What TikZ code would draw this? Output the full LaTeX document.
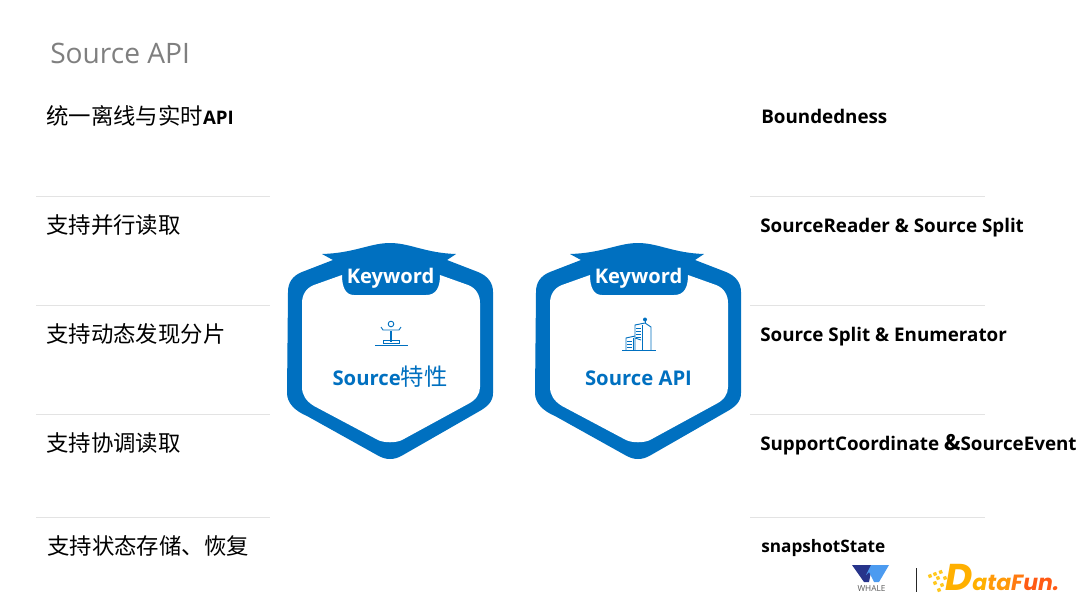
\documentclass[tikz,border=0pt]{standalone}
\usepackage{fontspec}
\setmainfont{Open Sans}
\newfontfamily\cjk{Noto Sans CJK SC}
\newfontfamily\logofont{Poppins}
\definecolor{kblue}{HTML}{0070C0}
\definecolor{sepgray}{HTML}{E3E3E3}
\definecolor{titlegray}{HTML}{7F7F7F}
\definecolor{dfa}{HTML}{FFC81E}
\definecolor{dfb}{HTML}{FFB000}
\definecolor{dfc}{HTML}{FF9A0A}
\definecolor{dfd}{HTML}{FF7A10}
\definecolor{dfe}{HTML}{FF5A14}
\definecolor{whaledark}{HTML}{27348B}
\definecolor{whalelight}{HTML}{4C9BF0}
\tikzset{
  leftlabel/.style={anchor=base west,inner sep=0pt,text=black,font=\fontsize{16.8}{20}\selectfont\cjk},
  rightlabel/.style={anchor=base west,inner sep=0pt,text=black,font=\fontsize{14.1}{18}\selectfont\bfseries},
  sepline/.style={draw=sepgray,line width=0.6pt},
  iconline/.style={draw=kblue,line width=0.7pt},
  caption/.style={anchor=base,inner sep=0pt,text=kblue,font=\fontsize{15.2}{19}\selectfont\bfseries},
  tabtext/.style={anchor=base,inner sep=0pt,text=white,font=\fontsize{15.1}{20}\selectfont\bfseries},
  badge/.pic={
    \fill[kblue] (0,243) .. controls (-20,243) and (-35,253) .. (-68,254) -- (-57,260) -- (-88,272)
      .. controls (-98,276) and (-102,283) .. (-102,292) -- (-103,393)
      .. controls (-103,403) and (-95,411) .. (-83,416) -- (-13,455)
      .. controls (-8,458) and (-4,459) .. (0,459) .. controls (4,459) and (8,458) .. (13,455)
      -- (88,412) .. controls (97,407) and (103,402) .. (103,393) -- (103,292)
      .. controls (103,283) and (98,276) .. (88,272) -- (57,260) -- (66,254)
      .. controls (35,253) and (20,243) .. (0,243) -- cycle;
    \fill[white] (-48,275) -- (-76,285) .. controls (-84,288) and (-88,295) .. (-88,303)
      -- (-88,387) .. controls (-88,395) and (-84,401) .. (-76,406) -- (-12,440)
      .. controls (-6,443) and (6,443) .. (12,440) -- (78,404)
      .. controls (86,400) and (90,394) .. (90,387) -- (90,303)
      .. controls (90,295) and (86,288) .. (78,285) -- (50,275)
      .. controls (50,288) and (46,295) .. (36,295) -- (-36,295)
      .. controls (-44,295) and (-48,288) .. (-48,275) -- cycle;
  }
}
\begin{document}
\begin{tikzpicture}[x=0.75pt,y=-0.75pt]
\useasboundingbox (0,0) rectangle (1080,608);
\fill[white] (0,0) rectangle (1080,608);

\node[anchor=base west,inner sep=0pt,text=titlegray,font=\fontsize{21.1}{25}\selectfont] (title) at (50,63) {Source API};

% left column
\node[leftlabel] (l1) at (46,124) {统一离线与实时{\rmfamily\bfseries\fontsize{14}{18}\selectfont API}};
\node[leftlabel] (l2) at (46,233) {支持并行读取};
\node[leftlabel] (l3) at (46,342) {支持动态发现分片};
\node[leftlabel] (l4) at (46,451) {支持协调读取};
\node[leftlabel] (l5) at (47,554) {支持状态存储、恢复};
\foreach \yy in {196,305,414,517}{
  \draw[sepline] (36,\yy) -- (270,\yy);
  \draw[sepline] (750,\yy) -- (985,\yy);
}

% right column
\node[rightlabel] (r1) at (761,123) {Boundedness};
\node[rightlabel] (r2) at (760,232) {SourceReader \& Source Split};
\node[rightlabel] (r3) at (760,341) {Source Split \& Enumerator};
\node[rightlabel] (r4) at (760,450) {SupportCoordinate {\cjk\fontsize{16}{18}\selectfont\&}SourceEvent};
\node[rightlabel,font=\fontsize{12.9}{16}\selectfont\bfseries] (r5) at (761,552) {snapshotState};

% badges
\pic at (390,0) {badge};
\pic at (638,0) {badge};
\node[tabtext] (k1) at (390.5,283) {Keyword};
\node[tabtext] (k2) at (638.5,283) {Keyword};
\node[caption] (c1) at (390,385) {Source{\cjk\mdseries\fontsize{17.5}{20}\selectfont 特性}};
\node[caption] (c2) at (638.5,385) {Source API};

% icon 1
\draw[iconline] (391,324) circle (2.8);
\draw[iconline] (381,327) -- (383,330) -- (399,330) -- (401,327);
\draw[iconline,line width=1.2pt] (391,331) -- (391,342);
\draw[iconline] (383,343) -- (383,340) -- (399,340) -- (399,343) -- cycle;
\draw[iconline] (375,345.5) -- (408,345.5);

% icon 2
\draw[iconline] (622,350) -- (656,350);
\draw[iconline] (626,350) -- (626,338) -- (635,336);
\draw[iconline] (635,350) -- (635,325) -- (645,323) -- (651,327) -- (651,350);
\draw[iconline] (642,350) -- (642,325);
\draw[iconline] (635,338) -- (641,340);
\draw[iconline] (633,338) -- (633,350);
\foreach \yy in {341,344,347}{\draw[iconline,line width=0.6pt] (627,\yy) -- (632,\yy);}
\foreach \yy in {328,331,334,337}{\draw[iconline,line width=0.6pt] (636,\yy) -- (641,\yy);}
\fill[kblue] (645,319.5) circle (2);
\draw[iconline,line width=0.6pt] (645,320) -- (645,323);

% WHALE logo
\fill[whaledark] (852,565) -- (871,565) -- (871,572) -- (869,582) -- (864,582) -- cycle;
\fill[whalelight] (889,565) -- (871,565) -- (866,575) -- (869,572) -- (874,582) -- (879,582) -- cycle;
\node[inner sep=0pt,text=black!65,font=\fontsize{6.2}{7}\selectfont] (whale) at (871.5,589) {WHALE};
\draw[black!85,line width=1.1pt] (916.5,568) -- (916.5,592);

% DataFun logo
\foreach \xx/\yy in {940.7/572,935/574,930/576,938/578,945/578,935/583,942/585,939/590}{
  \fill[dfa,rotate around={20:(\xx,\yy)}] ({\xx-1.7},{\yy-1.7}) rectangle ({\xx+1.7},{\yy+1.7});
}
\node[anchor=base west,inner sep=0pt,font=\fontsize{16.5}{20}\selectfont\logofont\bfseries\itshape] (datafun) at (945,590.5)
  {\textcolor{dfb}{\fontsize{28}{30}\selectfont D}\textcolor{dfb}{a}\textcolor{dfc}{ta}\textcolor{dfd}{F}\textcolor{dfe}{un.}};
\end{tikzpicture}
\end{document}
